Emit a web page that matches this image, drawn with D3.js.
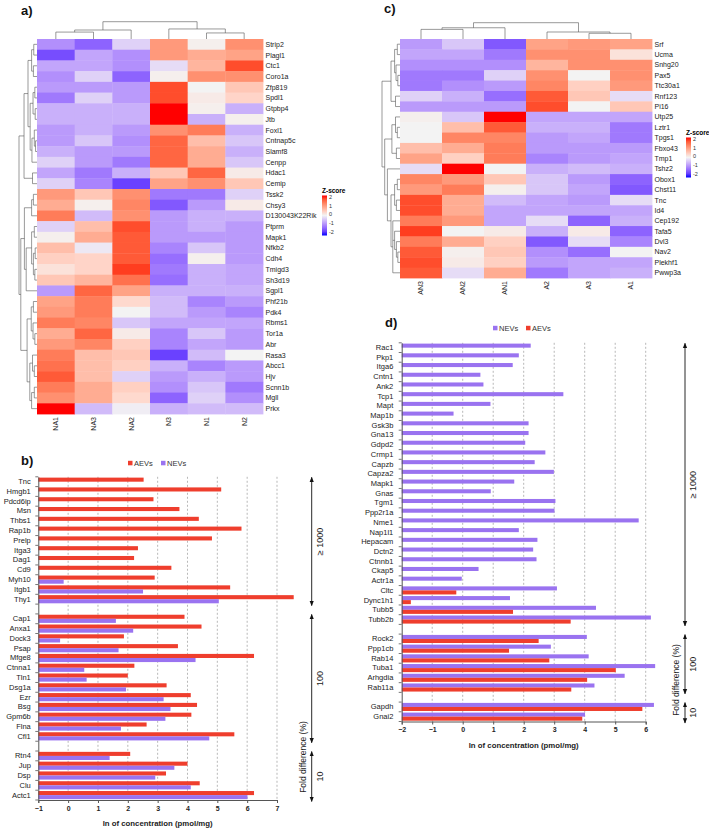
<!DOCTYPE html>
<html>
<head>
<meta charset="utf-8">
<script src="https://cdn.jsdelivr.net/npm/d3@7"></script>
<style>
  body { margin: 0; background: #fff; }
  svg { font-family: "Liberation Sans", Arial, sans-serif; }
</style>
</head>
<body>
<svg id="fig" width="709" height="830"></svg>
<script>
// ---- panel a heatmap ----
const colsA = ["NA1", "NA3", "NA2", "N3", "N1", "N2"];
const rowsA = ["Strip2", "Plagl1", "Ctc1", "Coro1a", "Zfp819", "Spdl1", "Gtpbp4", "Jtb", "Foxl1", "Cntnap5c",
  "Slamf8", "Cenpp", "Hdac1", "Cemip", "Tssk2", "Chsy3", "D130043K22Rik", "Ptprm", "Mapk1", "Nfkb2",
  "Cdh4", "Tmigd3", "Sh3d19", "Sgpl1", "Phf21b", "Pdk4", "Rbms1", "Tor1a", "Abr", "Rasa3",
  "Abcc1", "Hjv", "Scnn1b", "Mgll", "Prkx"];
const zA = [
  [-0.9, -1.3, -0.3, 1.0, 0.05, 1.1],
  [-1.5, -0.7, -0.9, 1.0, 0.8, 0.9],
  [-0.7, -0.7, -0.9, -0.2, 0.7, 1.7],
  [-0.9, -0.3, -1.3, 0.05, 1.1, 1.1],
  [-0.8, -0.8, -0.8, 1.7, 0.0, 0.5],
  [-1.1, -0.3, -0.8, 1.7, 0.1, 0.35],
  [-0.6, -0.6, -0.6, 2.0, 0.05, -0.6],
  [-0.6, -0.6, -0.6, 2.0, -0.6, 0.05],
  [-0.8, -0.6, -0.8, 1.1, 1.3, -0.6],
  [-0.8, -0.4, -0.9, 1.5, 0.6, -0.4],
  [-0.6, -0.8, -0.8, 1.5, 0.8, -0.6],
  [-0.3, -0.8, -1.1, 1.5, 0.8, -0.4],
  [-0.7, -1.1, -0.6, 0.5, 1.5, 0.1],
  [-0.3, -1.0, -1.6, 0.9, 1.1, 0.5],
  [1.0, 0.5, 1.1, -1.1, -1.1, -0.3],
  [0.8, 0.05, 1.2, -1.4, -0.8, 0.1],
  [1.3, -0.5, 1.1, -0.8, -0.6, -0.6],
  [-0.3, 0.6, 1.7, -0.8, -0.6, -0.8],
  [0.05, 0.8, 1.6, -0.8, -0.8, -0.8],
  [0.6, -0.1, 1.6, -1.0, -0.4, -0.8],
  [0.4, 0.35, 1.6, -1.2, 0.05, -0.8],
  [0.2, 0.35, 1.8, -1.1, -0.6, -0.7],
  [0.5, 0.7, 1.4, -1.2, -0.6, -0.7],
  [-0.8, 1.5, 0.9, -0.6, -0.6, -0.6],
  [0.9, 1.3, 0.3, -0.5, -1.0, -0.8],
  [1.0, 1.3, 0.0, -0.5, -0.8, -1.0],
  [1.3, 1.2, -0.4, -0.7, -0.7, -0.7],
  [0.8, 1.5, 0.1, -1.0, -0.4, -0.8],
  [1.0, 1.2, 0.4, -1.0, -0.7, -0.8],
  [1.3, 0.6, 0.5, -1.6, -0.5, 0.0],
  [1.4, 0.6, 0.4, -0.6, -1.0, -0.8],
  [1.6, 0.6, -0.3, -0.8, -0.6, -0.8],
  [1.3, 0.8, 0.4, -0.9, -0.4, -1.1],
  [1.1, 0.8, 0.3, -1.3, -0.3, -0.9],
  [2.0, -0.5, -0.05, -0.6, -0.5, -0.5]
];
// trees: [height, child, child...], leaves are row/column indices
const colTreeA = [1, [0.52, [0.40, 0, 1], 2], [0.58, 3, [0.35, 4, 5]]];
const rowTreeA = [1,
  [0.72,
    [0.5,
      [0.3, [0.18, 0, 1], [0.2, 2, 3]],
      [0.38, [0.22, [0.12, 4, 5], [0.1, 6, 7]], [0.28, [0.15, 8, [0.08, 9, 10]], 11]]],
    [0.25, 12, 13]],
  [0.9,
    [0.7,
      [0.3, [0.2, 14, 15], 16],
      [0.6, [0.3, [0.15, 17, 18], [0.2, [0.1, 19, 20], [0.12, 21, 22]]], 23]],
    [0.55,
      [0.32, [0.2, 24, 25], [0.22, 26, [0.12, 27, 28]]],
      [0.4, [0.25, 29, [0.15, 30, 31]], [0.3, [0.15, 32, 33], 34]]]]];

// ---- panel c heatmap ----
const colsC = ["AN3", "AN2", "AN1", "A2", "A3", "A1"];
const rowsC = ["Srf", "Ucma", "Snhg20", "Pax5", "Ttc30a1", "Rnf123", "Pi16", "Utp25", "Lztr1", "Tpgs1",
  "Fbxo43", "Tmp1", "Tshz2", "Obox1", "Chst11", "Tnc", "Id4", "Cep192", "Tafa5", "Dvl3",
  "Nav2", "Plekhf1", "Pwwp3a"];
const zC = [
  [-0.8, -0.4, -1.4, 0.9, 1.0, 0.9],
  [-0.7, -0.7, -1.1, 1.1, 1.1, 0.2],
  [-0.9, -0.9, -0.9, 0.7, 1.1, 1.1],
  [-1.1, -1.1, -0.3, 1.1, 0.0, 1.1],
  [-1.1, -0.9, -0.8, 1.2, 0.4, 1.0],
  [-0.3, -0.6, -1.2, 1.6, 0.5, -0.2],
  [-0.8, -0.8, -0.8, 1.7, 0.0, 0.5],
  [0.05, -0.4, 2.0, -0.7, -0.7, -0.7],
  [0.0, 0.6, 1.6, -0.6, -0.6, -1.1],
  [0.0, 1.2, 1.2, -0.8, -0.7, -1.1],
  [0.6, 0.8, 1.3, -0.8, -0.8, -0.8],
  [0.9, 0.4, 1.3, -1.0, -0.8, -0.7],
  [-0.2, 2.0, 0.0, -0.6, -0.5, -0.6],
  [1.2, 1.0, 0.5, -0.4, -0.8, -1.3],
  [1.0, 1.3, 0.05, -0.4, -0.7, -1.4],
  [1.7, 0.8, -0.5, -0.7, -0.8, -0.2],
  [1.7, 0.8, -0.7, -0.7, -0.7, -0.7],
  [1.3, 1.0, -0.7, -0.2, -1.3, -0.6],
  [1.8, 0.0, 0.1, -0.6, 0.1, -1.3],
  [1.3, 0.8, 0.4, -1.4, -0.2, -1.0],
  [1.6, 0.05, 0.5, -0.9, -1.2, 0.0],
  [1.7, 0.1, 0.4, -0.8, -0.7, -0.7],
  [1.6, -0.2, 0.8, -1.1, -0.7, -0.6]
];
const colTreeC = [1, [0.69, [0.59, 0, 1], 2], [0.43, 3, [0.35, 4, 5]]];
const rowTreeC = [1,
  [0.5, [0.3, [0.15, 0, 1], [0.22, 2, [0.12, 3, 4]]], [0.25, 5, 6]],
  [0.85,
    [0.45, [0.25, 7, [0.15, 8, 9]], [0.2, 10, 11]],
    [0.7, 12, [0.5, [0.3, [0.15, 13, 14], [0.2, 15, 16]], [0.4, 17, [0.3, 18, [0.2, 19, [0.12, 20, 21]]], 22]]]]];

const zTicks = [2, 1, 0, -1, -2];

// ---- panel b bars ----
const bLabels = ["Tnc", "Hmgb1", "Pdcd6ip", "Msn", "Thbs1", "Rap1b", "Prelp", "Itga3", "Dag1", "Cd9", "Myh10", "Itgb1", "Thy1", "",
  "Cap1", "Anxa1", "Dock3", "Psap", "Mfge8", "Ctnna1", "Tln1", "Dsg1a", "Ezr", "Bsg", "Gpm6b", "Flna", "Cfl1", "",
  "Rtn4", "Jup", "Dsp", "Clu", "Actc1"];
const bAEV = [2.53, 5.13, 2.86, 3.73, 4.38, 5.81, 4.82, 2.34, 2.21, 3.46, 2.90, 5.43, 7.56, null,
  3.90, 4.47, 1.87, 3.68, 6.23, 2.22, 2.00, 3.30, 4.11, 4.32, 4.13, 2.63, 5.57, null,
  2.08, 4.00, 3.28, 4.41, 6.23];
const bNEV = [null, null, null, null, null, null, null, null, null, null, -0.15, 2.51, 5.05, null,
  1.60, 2.18, -0.27, 1.69, 4.27, 0.54, 0.62, 1.94, 3.20, 3.43, 3.26, 1.77, 4.73, null,
  1.39, 3.56, 2.92, 4.11, 6.01];
const bGroupLabels = ["\u2265 1000", "100", "10"];
const bGroupSpans = [[0, 12], [14, 26], [28, 32]];

// ---- panel d bars ----
const dLabels = ["Rac1", "Pkp1", "Itga6", "Cntn1", "Ank2", "Tcp1", "Mapt", "Map1b", "Gsk3b", "Gna13", "Gdpd2", "Crmp1",
  "Capzb", "Capza2", "Mapk1", "Gnas", "Tgm1", "Ppp2r1a", "Nme1", "Nap1l1", "Hepacam", "Dctn2", "Ctnnb1", "Ckap5",
  "Actr1a", "Cltc", "Dync1h1", "Tubb5", "Tubb2b", "",
  "Rock2", "Ppp1cb", "Rab14", "Tuba1", "Arhgdia", "Rab11a", "", "Gapdh", "Gnai2"];
const dNEV = [2.23, 1.84, 1.64, 0.58, 0.68, 3.30, 0.91, -0.30, 2.16, 2.16, 2.05, 2.71,
  2.36, 2.99, 1.69, 0.92, 3.04, 3.01, 5.77, 1.84, 2.45, 2.31, 2.42, 0.52,
  -0.03, 3.09, 1.55, 4.37, 6.17, null,
  4.07, 2.89, 4.13, 6.31, 5.31, 4.32, null, 6.27, 4.01];
const dAEV = [null, null, null, null, null, null, null, null, null, null, null, null,
  null, null, null, null, null, null, null, null, null, null, null, null,
  null, -0.21, -1.70, 1.65, 3.54, null,
  2.49, 1.52, 2.84, 5.02, 4.08, 3.56, null, 5.89, 3.92];
const dGroupLabels = ["\u2265 1000", "100", "10"];
const dGroupSpans = [[0, 28], [30, 35], [37, 38]];

const RED = "#ef3e2d", PURPLE = "#9a73f0";

const svg = d3.select("#fig");
const zColor = d3.scaleLinear().domain([-2, 0, 2])
  .range(["#0000ff", "#f3f3f3", "#ff0000"]).interpolate(d3.interpolateLab).clamp(true);

const defs = svg.append("defs");
defs.append("marker").attr("id", "arr").attr("viewBox", "0 0 10 10")
  .attr("refX", 9).attr("refY", 5).attr("markerWidth", 6).attr("markerHeight", 6)
  .attr("orient", "auto-start-reverse")
  .append("path").attr("d", "M0,1 L10,5 L0,9 Z").attr("fill", "#111");

function drawTree(g, root, leafPos, hScale, isRow) {
  const segs = [];
  (function walk(n) {
    if (typeof n === "number") return { p: leafPos(n), h: 0 };
    const [h, ...kids] = n;
    const ks = kids.map(walk);
    ks.forEach(k => segs.push([k.p, k.h, k.p, h]));
    segs.push([ks[0].p, h, ks[ks.length - 1].p, h]);
    return { p: (ks[0].p + ks[ks.length - 1].p) / 2, h };
  })(root);
  g.append("g").attr("stroke", "#555").attr("stroke-width", 0.6)
    .selectAll("line").data(segs).join("line")
    .attr(isRow ? "y1" : "x1", d => d[0]).attr(isRow ? "x1" : "y1", d => hScale(d[1]))
    .attr(isRow ? "y2" : "x2", d => d[2]).attr(isRow ? "x2" : "y2", d => hScale(d[3]));
}

function heatmap(o) {
  const g = svg.append("g");
  const x = d3.scaleBand().domain(d3.range(o.cols.length)).range([o.x0, o.x1]);
  const y = d3.scaleBand().domain(d3.range(o.rows.length)).range([o.y0, o.y1]);
  const cells = o.z.flatMap((r, i) => r.map((v, j) => ({ i, j, v })));
  g.selectAll("rect").data(cells).join("rect")
    .attr("x", d => x(d.j)).attr("y", d => y(d.i))
    .attr("width", x.bandwidth() + 0.4).attr("height", y.bandwidth() + 0.4)
    .attr("fill", d => zColor(d.v));
  g.append("g").selectAll("text").data(o.rows).join("text")
    .attr("x", o.x1 + 2.5).attr("y", (d, i) => y(i) + y.bandwidth() / 2)
    .attr("dy", "0.35em").attr("font-size", 7).attr("fill", "#222").text(d => d);
  g.append("g").selectAll("text").data(o.cols).join("text")
    .attr("transform", (d, j) => `translate(${x(j) + x.bandwidth() / 2},${o.y1 + 3}) rotate(-90)`)
    .attr("dy", "0.35em").attr("text-anchor", "end").attr("font-size", 7).attr("fill", "#222").text(d => d);
  drawTree(g, o.rowTree, i => y(i) + y.bandwidth() / 2,
    d3.scaleLinear().domain([0, 1]).range([o.x0, o.x0 - o.dendW]), true);
  drawTree(g, o.colTree, j => x(j) + x.bandwidth() / 2,
    d3.scaleLinear().domain([0, 1]).range([o.y0, o.y0 - o.dendH]), false);

  // z-score legend
  const gid = "grad" + o.id;
  const grad = defs.append("linearGradient").attr("id", gid).attr("x1", 0).attr("y1", 0).attr("x2", 0).attr("y2", 1);
  d3.range(0, 1.001, 0.1).forEach(t => grad.append("stop").attr("offset", t).attr("stop-color", zColor(2 - 4 * t)));
  const ly = d3.scaleLinear().domain([2, -2]).range([o.ly, o.ly + 35]);
  g.append("text").attr("x", o.lx).attr("y", o.ly - 4).attr("font-size", 6.5).attr("font-weight", "bold").text("Z-score");
  g.append("rect").attr("x", o.lx).attr("y", ly(2) - 1.5).attr("width", 5).attr("height", ly(-2) - ly(2) + 5)
    .attr("fill", `url(#${gid})`);
  g.append("g").selectAll("text").data(zTicks).join("text")
    .attr("x", o.lx + 7).attr("y", d => ly(d)).attr("dy", "0.35em").attr("font-size", 5.5).attr("fill", "#333")
    .text(d => d);
}

function barChart(o) {
  const g = svg.append("g");
  const x = d3.scaleLinear().domain(o.xDomain).range([o.x0, o.x1]);
  const y = d3.scaleBand().domain(d3.range(o.labels.length)).range([o.y0, o.y1]);
  const inner = d3.scaleBand().domain([0, 1]).range([0, y.bandwidth()]).paddingOuter(0.2);
  const ticks = d3.range(o.xDomain[0], o.xDomain[1] + 1);

  g.append("g").selectAll("line").data(ticks.slice(1)).join("line")
    .attr("x1", d => x(d)).attr("x2", d => x(d)).attr("y1", o.y0).attr("y2", o.y1)
    .attr("stroke", "#9a9a9a").attr("stroke-width", 0.7).attr("stroke-dasharray", "2,2");

  o.series.forEach((s, k) => {
    g.append("g").selectAll("rect").data(s.values.map((v, i) => ({ v, i })).filter(d => d.v != null)).join("rect")
      .attr("x", x(o.xDomain[0])).attr("y", d => y(d.i) + inner(k))
      .attr("width", d => x(d.v) - x(o.xDomain[0])).attr("height", inner.bandwidth())
      .attr("fill", s.color);
  });

  const ax = g.append("g").attr("transform", `translate(0,${o.y1})`)
    .call(d3.axisBottom(x).tickValues(ticks).tickSize(3).tickFormat(d3.format("d")));
  ax.select(".domain").attr("stroke", "#555");
  ax.selectAll(".tick line").attr("stroke", "#555");
  ax.selectAll("text").attr("font-size", 7).attr("font-weight", "bold").attr("fill", "#222")
    .attr("font-family", "Liberation Sans, Arial, sans-serif");

  const ay = g.append("g").attr("transform", `translate(${o.x0},0)`)
    .call(d3.axisLeft(y).tickSize(0).tickPadding(o.pad).tickFormat(i => o.labels[i]));
  ay.select(".domain").attr("stroke", "#555");
  ay.selectAll("text").attr("font-size", 7.5).attr("fill", "#222")
    .attr("font-family", "Liberation Sans, Arial, sans-serif");
  g.append("g").selectAll("line").data(d3.range(o.labels.length + 1)).join("line")
    .attr("x1", o.x0 - 3).attr("x2", o.x0)
    .attr("y1", i => o.y0 + i * y.step()).attr("y2", i => o.y0 + i * y.step())
    .attr("stroke", "#555").attr("stroke-width", 0.8);

  g.append("text").attr("x", (x(o.xDomain[0]) + x(o.xDomain[1])) / 2).attr("y", o.y1 + 26)
    .attr("text-anchor", "middle").attr("font-size", 7.8).attr("font-weight", "bold").attr("fill", "#222")
    .text("ln of concentration (pmol/mg)");

  // legend
  let lx = o.legX;
  o.series.forEach(s => {
    g.append("rect").attr("x", lx).attr("y", o.legY - 2.2).attr("width", 4.5).attr("height", 4.5).attr("fill", s.color);
    g.append("text").attr("x", lx + 6).attr("y", o.legY).attr("dy", "0.35em").attr("font-size", 7.5).attr("fill", "#333").text(s.name);
    lx += 33;
  });

  // fold difference brackets
  o.groupSpans.forEach((sp, k) => {
    const ya = y(sp[0]) + 0.5, yb = y(sp[1]) + y.bandwidth() + 1.5;
    g.append("line").attr("x1", o.arrX).attr("x2", o.arrX).attr("y1", ya).attr("y2", yb)
      .attr("stroke", "#111").attr("stroke-width", 0.9)
      .attr("marker-start", "url(#arr)").attr("marker-end", "url(#arr)");
    g.append("text").attr("transform", `translate(${o.arrX + 8},${(ya + yb) / 2}) rotate(-90)`)
      .attr("dy", "0.35em").attr("text-anchor", "middle").attr("font-size", 9).attr("fill", "#222")
      .text(o.groupLabels[k]);
  });
  g.append("text").attr("transform", `translate(${o.arrX - 9},${o.foldY}) rotate(-90)`)
    .attr("dy", "0.35em").attr("text-anchor", "middle").attr("font-size", 8.5).attr("fill", "#222")
    .text("Fold difference (%)");
}

heatmap({ id: "a", cols: colsA, rows: rowsA, z: zA, rowTree: rowTreeA, colTree: colTreeA,
  x0: 37, x1: 263, y0: 39, y1: 414, dendW: 18, dendH: 17.3, lx: 322, ly: 197 });
heatmap({ id: "c", cols: colsC, rows: rowsC, z: zC, rowTree: rowTreeC, colTree: colTreeC,
  x0: 400, x1: 652, y0: 39, y1: 278, dendW: 18, dendH: 16.3, lx: 686, ly: 139 });

barChart({ labels: bLabels, xDomain: [-1, 7], x0: 38.3, x1: 277, y0: 476.8, y1: 800, pad: 7.5,
  series: [{ name: "AEVs", color: RED, values: bAEV }, { name: "NEVs", color: PURPLE, values: bNEV }],
  legX: 128, legY: 463, groupSpans: bGroupSpans, groupLabels: bGroupLabels, arrX: 311.7, foldY: 757 });
barChart({ labels: dLabels, xDomain: [-2, 6], x0: 401.7, x1: 645.7, y0: 342.8, y1: 721.5, pad: 8.4,
  series: [{ name: "NEVs", color: PURPLE, values: dNEV }, { name: "AEVs", color: RED, values: dAEV }],
  legX: 493, legY: 328, groupSpans: dGroupSpans, groupLabels: dGroupLabels, arrX: 685, foldY: 680 });

// panel letters
[["a)", 21, 15], ["b)", 21, 465], ["c)", 384, 13], ["d)", 385, 327]].forEach(([t, x, y]) =>
  svg.append("text").attr("x", x).attr("y", y).attr("font-size", 13).attr("font-weight", "bold").attr("fill", "#111").text(t));
</script>
</body>
</html>
